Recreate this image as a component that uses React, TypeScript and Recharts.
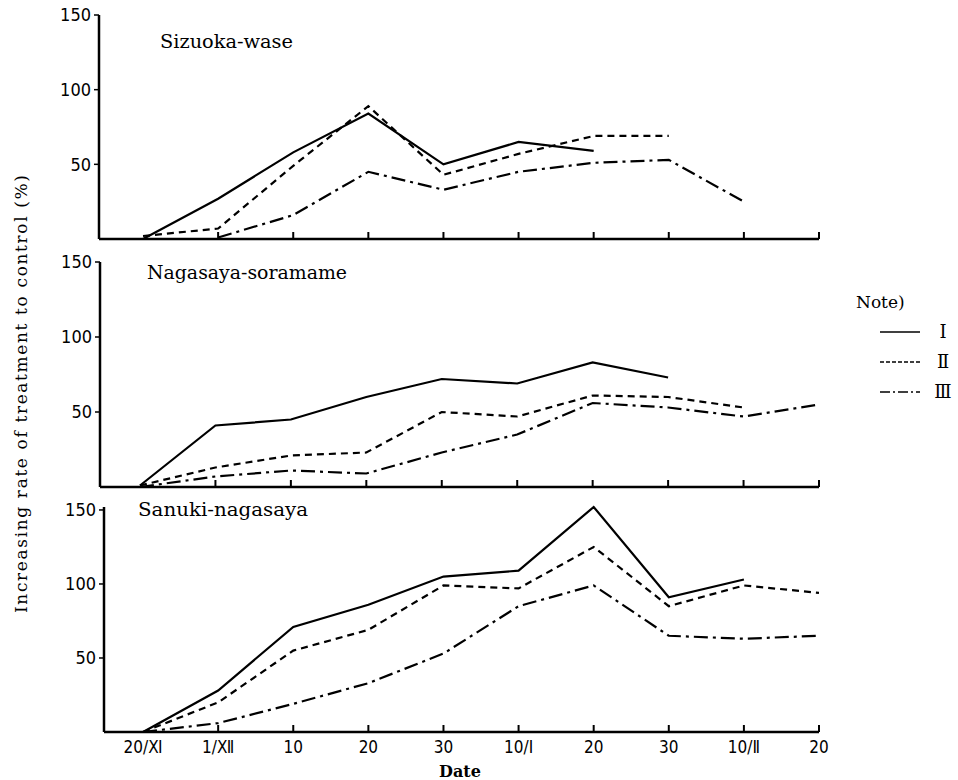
import React from "react";
import { LineChart, Line, XAxis, YAxis } from "recharts";

// ---------- data ----------
const dates = ["20/Ⅺ", "1/Ⅻ", "10", "20", "30", "10/Ⅰ", "20", "30", "10/Ⅱ", "20"];
const xIndex = [0, 1, 2, 3, 4, 5, 6, 7, 8, 9];
const yTicks = [50, 100, 150];

const sizuokaI = [0, 27, 58, 84, 50, 65, 59, null, null, null];
const sizuokaII = [2, 7, 49, 89, 43, 57, 69, 69, null, null];
const sizuokaIII = [null, 1, 16, 45, 33, 45, 51, 53, 25, null];

const nagasayaI = [1, 41, 45, 60, 72, 69, 83, 73, null, null];
const nagasayaII = [1, 13, 21, 23, 50, 47, 61, 60, 53, null];
const nagasayaIII = [0, 7, 11, 9, 23, 35, 56, 53, 47, 55];

const sanukiI = [0, 28, 71, 86, 105, 109, 152, 91, 103, null];
const sanukiII = [0, 20, 55, 69, 99, 97, 125, 85, 99, 94];
const sanukiIII = [0, 6, 19, 33, 53, 85, 99, 65, 63, 65];

const seriesNames = ["Ⅰ", "Ⅱ", "Ⅲ"];

const build = (a: (number | null)[], b: (number | null)[], c: (number | null)[]) =>
  xIndex.map((i) => ({ i, I: a[i], II: b[i], III: c[i] }));

const sizuokaData = build(sizuokaI, sizuokaII, sizuokaIII);
const nagasayaData = build(nagasayaI, nagasayaII, nagasayaIII);
const sanukiData = build(sanukiI, sanukiII, sanukiIII);

// ---------- styles ----------
const FONT_TICK =
  '"Liberation Sans Narrow", "DejaVu Sans Condensed", "Roboto Condensed", "Liberation Sans", sans-serif';
const FONT_SERIF = '"DejaVu Serif", "Liberation Serif", serif';
const DASH_II = "7 5";
const DASH_III = "14 5 3 5";

function XTick(props: any) {
  const { x, y, payload, showLabel } = props;
  const i = payload.value as number;
  return (
    <g>
      {i > 0 && <line x1={x} y1={y} x2={x} y2={y - 7} stroke="#000" strokeWidth={2} />}
      {showLabel && (
        <text
          x={x}
          y={y + 21}
          textAnchor="middle"
          fontSize={17}
          fontFamily={FONT_TICK}
          fill="#000"
        >
          {dates[i]}
        </text>
      )}
    </g>
  );
}

type PanelProps = {
  data: any[];
  top: number;
  height: number;
  marginTop: number;
  xHeight: number;
  yWidth: number;
  xMin: number;
  showLabels: boolean;
};

function Panel({ data, top, height, marginTop, xHeight, yWidth, xMin, showLabels }: PanelProps) {
  return (
    <div style={{ position: "absolute", left: 0, top }}>
      <LineChart
        width={840}
        height={height}
        data={data}
        margin={{ top: marginTop, right: 21, bottom: 0, left: 0 }}
      >
        <XAxis
          type="number"
          dataKey="i"
          domain={[xMin, 9]}
          ticks={xIndex}
          interval={0}
          allowDataOverflow
          height={xHeight}
          tickSize={0}
          tickMargin={0}
          tickLine={false}
          axisLine={{ stroke: "#000", strokeWidth: 2.5 }}
          tick={(p: any) => <XTick {...p} showLabel={showLabels} />}
        />
        <YAxis
          type="number"
          domain={[0, 150]}
          ticks={yTicks}
          width={yWidth}
          tickSize={5}
          tickMargin={3}
          axisLine={{ stroke: "#000", strokeWidth: 2.5 }}
          tickLine={{ stroke: "#000", strokeWidth: 1.5 }}
          tick={{ fill: "#000", fontSize: 18, fontFamily: FONT_TICK }}
        />
        <Line
          type="linear"
          dataKey="I"
          stroke="#000"
          strokeWidth={2.2}
          dot={false}
          activeDot={false}
          isAnimationActive={false}
        />
        <Line
          type="linear"
          dataKey="II"
          stroke="#000"
          strokeWidth={2.2}
          strokeDasharray={DASH_II}
          dot={false}
          activeDot={false}
          isAnimationActive={false}
        />
        <Line
          type="linear"
          dataKey="III"
          stroke="#000"
          strokeWidth={2.2}
          strokeDasharray={DASH_III}
          dot={false}
          activeDot={false}
          isAnimationActive={false}
        />
      </LineChart>
    </div>
  );
}

export default function App() {
  return (
    <div
      style={{
        position: "absolute",
        left: 0,
        top: 0,
        width: 958,
        height: 780,
        background: "#fff",
        overflow: "hidden",
      }}
    >
      <Panel data={sizuokaData} top={0} height={262} marginTop={15} xHeight={23} yWidth={99} xMin={-0.586} showLabels={false} />
      <Panel data={nagasayaData} top={245} height={262} marginTop={17} xHeight={20} yWidth={100} xMin={-0.53} showLabels={false} />
      <Panel data={sanukiData} top={490} height={290} marginTop={17} xHeight={48} yWidth={104} xMin={-0.52} showLabels={true} />

      <svg
        width={958}
        height={780}
        style={{ position: "absolute", left: 0, top: 0, pointerEvents: "none" }}
      >
        <g fill="#000">
          <text x={160} y={48} fontSize={18} fontFamily={FONT_SERIF} textLength={133} lengthAdjust="spacingAndGlyphs">
            Sizuoka-wase
          </text>
          <text x={147} y={279} fontSize={18} fontFamily={FONT_SERIF} textLength={200} lengthAdjust="spacingAndGlyphs">
            Nagasaya-soramame
          </text>
          <text x={138} y={516} fontSize={18} fontFamily={FONT_SERIF} textLength={170} lengthAdjust="spacingAndGlyphs">
            Sanuki-nagasaya
          </text>
          <text
            transform="translate(27,394) rotate(-90)"
            textAnchor="middle"
            fontSize={17}
            fontFamily={FONT_SERIF}
            textLength={438}
            lengthAdjust="spacing"
          >
            Increasing rate of treatment to control (%)
          </text>
          <text x={460} y={777} textAnchor="middle" fontSize={16} fontFamily={FONT_SERIF} fontWeight="bold">
            Date
          </text>
          <text x={856} y={308} fontSize={17} fontFamily={FONT_SERIF}>
            Note)
          </text>
          {seriesNames.map((n, k) => (
            <g key={n}>
              <line
                x1={880}
                x2={920}
                y1={332 + k * 30}
                y2={332 + k * 30}
                stroke="#000"
                strokeWidth={1.5}
                strokeDasharray={k === 0 ? undefined : k === 1 ? "4 2" : "10 3 2 3"}
              />
              <text x={943} y={338 + k * 30} textAnchor="middle" fontSize={18} fontFamily={FONT_SERIF}>
                {n}
              </text>
            </g>
          ))}
        </g>
      </svg>
    </div>
  );
}
